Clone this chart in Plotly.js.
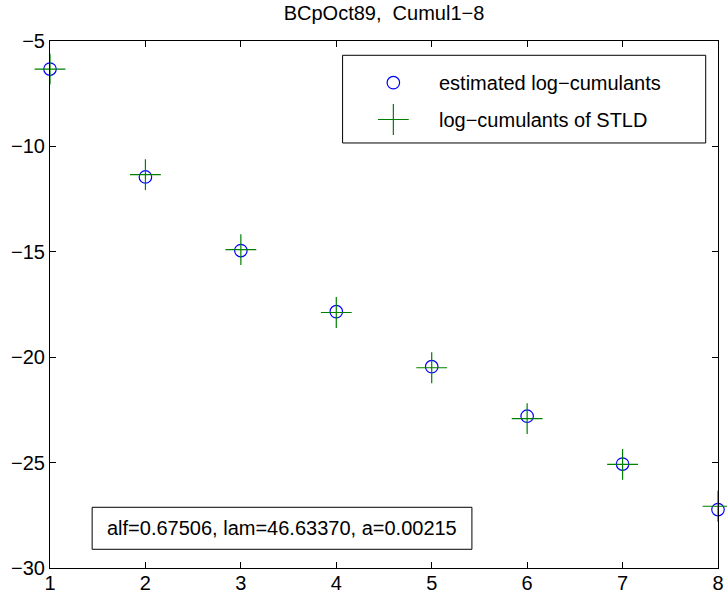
<!DOCTYPE html>
<html>
<head>
<meta charset="utf-8">
<script src="https://cdn.plot.ly/plotly-3.0.1.min.js"></script>
<style>html,body{margin:0;padding:0;background:#fff;}#chart{width:727px;height:594px;}</style>
</head>
<body>
<div id="chart"></div>
<script>
// ---- data ----
const cumulantOrder = [1, 2, 3, 4, 5, 6, 7, 8];
const estimatedLogCumulants = [-6.33, -11.45, -14.94, -17.84, -20.45, -22.80, -25.07, -27.23];
const stldLogCumulants = [-6.33, -11.34, -14.90, -17.88, -20.50, -22.91, -25.08, -27.07];
const xTickVals = [1, 2, 3, 4, 5, 6, 7, 8];
const yTickVals = [-30, -25, -20, -15, -10, -5];
const seriesNames = ['estimated log\u2212cumulants', 'log\u2212cumulants of STLD'];
const chartTitle = 'BCpOct89,  Cumul1\u22128';
const paramText = 'alf=0.67506, lam=46.63370, a=0.00215';

const FONT = 'Liberation Sans, Arial, Helvetica, sans-serif';
const FS = 20;

const circleMarker = {symbol: 'circle-open', size: 12.5, color: '#0000ff', line: {width: 1.2, color: '#0000ff'}};
const crossMarker = {symbol: 'cross-thin-open', size: 22, color: '#008000', line: {width: 1.2, color: '#008000'}};

const traces = [
  {
    x: cumulantOrder, y: estimatedLogCumulants, type: 'scatter', mode: 'markers',
    name: seriesNames[0], cliponaxis: false, showlegend: false, marker: circleMarker
  },
  {
    x: cumulantOrder, y: stldLogCumulants, type: 'scatter', mode: 'markers',
    name: seriesNames[1], cliponaxis: false, showlegend: false, marker: crossMarker
  },
  // legend keys on a full-area helper axis
  {
    x: [0.514], y: [0.921], xaxis: 'x2', yaxis: 'y2', type: 'scatter', mode: 'markers',
    showlegend: false, hoverinfo: 'skip', cliponaxis: false, marker: circleMarker
  },
  {
    x: [0.514], y: [0.851], xaxis: 'x2', yaxis: 'y2', type: 'scatter', mode: 'markers',
    showlegend: false, hoverinfo: 'skip', cliponaxis: false, marker: crossMarker
  }
];

const axisCommon = {
  showline: true, linecolor: '#000', linewidth: 1, mirror: 'ticks',
  ticks: 'inside', ticklen: 6, tickcolor: '#000', tickwidth: 1,
  showgrid: false, zeroline: false, automargin: false,
  tickfont: {family: FONT, size: FS, color: '#000'}
};

const layout = {
  width: 727, height: 594,
  margin: {l: 50, r: 9, t: 41, b: 26, pad: 0},
  paper_bgcolor: '#fff', plot_bgcolor: 'rgba(0,0,0,0)',
  showlegend: false,
  font: {family: FONT, size: FS, color: '#000'},
  title: {
    text: chartTitle, font: {family: FONT, size: FS, color: '#000'},
    x: 0.5, xref: 'paper', xanchor: 'center',
    y: 1 - 13 / 594, yref: 'container', yanchor: 'middle'
  },
  xaxis: Object.assign({}, axisCommon, {range: [1, 8], tickmode: 'array', tickvals: xTickVals, ticklabelstandoff: -3}),
  yaxis: Object.assign({}, axisCommon, {range: [-30, -5], tickmode: 'array', tickvals: yTickVals}),
  xaxis2: {domain: [0, 1], range: [0, 1], visible: false, anchor: 'y2', fixedrange: true, showgrid: false, zeroline: false},
  yaxis2: {domain: [0, 1], range: [0, 1], visible: false, anchor: 'x2', fixedrange: true, showgrid: false, zeroline: false},
  shapes: [
    {type: 'rect', xref: 'paper', yref: 'paper', x0: 0.438, x1: 0.9816, y0: 0.8065, y1: 0.9729,
     line: {color: '#000', width: 1}, fillcolor: 'rgba(0,0,0,0)', layer: 'above'},
    {type: 'rect', xref: 'paper', yref: 'paper', x0: 0.0631, x1: 0.6316, y0: 0.0355, y1: 0.1152,
     line: {color: '#000', width: 1}, fillcolor: 'rgba(0,0,0,0)', layer: 'above'}
  ],
  annotations: [
    {text: seriesNames[0], xref: 'paper', yref: 'paper', x: 0.579, y: 0.921,
     xanchor: 'left', yanchor: 'middle', showarrow: false, font: {family: FONT, size: FS, color: '#000'}},
    {text: seriesNames[1], xref: 'paper', yref: 'paper', x: 0.579, y: 0.851,
     xanchor: 'left', yanchor: 'middle', showarrow: false, font: {family: FONT, size: FS, color: '#000'}},
    {text: paramText, xref: 'paper', yref: 'paper', x: 0.347, y: 0.0753,
     xanchor: 'center', yanchor: 'middle', showarrow: false, font: {family: FONT, size: FS, color: '#000'}}
  ]
};

Plotly.newPlot('chart', traces, layout, {staticPlot: true, displayModeBar: false});
</script>
</body>
</html>
